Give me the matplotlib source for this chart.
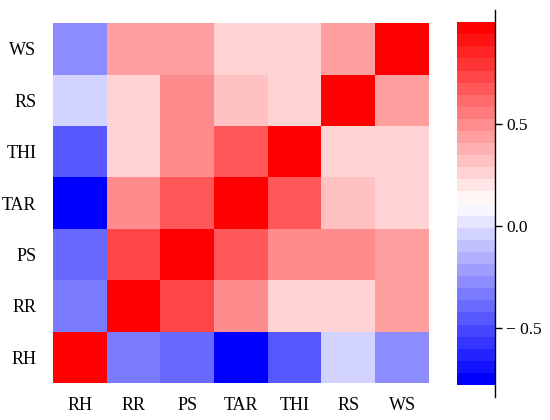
import numpy as np
import matplotlib
matplotlib.use("Agg")
import matplotlib.pyplot as plt
from matplotlib.colors import Normalize
from matplotlib.transforms import blended_transform_factory

plt.rcParams['font.family'] = ['Liberation Serif', 'DejaVu Serif']

# variables (bottom row first, same order on x)
labels = ['RH', 'RR', 'PS', 'TAR', 'THI', 'RS', 'WS']

# correlation rows, from RH (bottom) up to WS (top)
row_RH = [1.00, -0.33, -0.39, -0.75, -0.45, -0.04, -0.28]
row_RR = [-0.33, 1.00, 0.73, 0.50, 0.26, 0.26, 0.44]
row_PS = [-0.39, 0.73, 1.00, 0.67, 0.50, 0.50, 0.44]
row_TAR = [-0.75, 0.50, 0.67, 1.00, 0.67, 0.32, 0.26]
row_THI = [-0.45, 0.26, 0.50, 0.67, 1.00, 0.26, 0.26]
row_RS = [-0.04, 0.26, 0.50, 0.32, 0.26, 1.00, 0.44]
row_WS = [-0.28, 0.44, 0.44, 0.26, 0.26, 0.44, 1.00]

cbar_ticks = [-0.5, 0.0, 0.5]
cbar_ticklabels = ['\u2212 0.5', '0.0', '0.5']

corr = np.array([row_RH, row_RR, row_PS, row_TAR, row_THI, row_RS, row_WS])

vmin, vmax = -0.78, 1.0
cmap = plt.get_cmap('bwr', 30)
norm = Normalize(vmin=vmin, vmax=vmax)

fig = plt.figure(figsize=(5.5, 4.2), dpi=100)
ax = fig.add_axes([0.0964, 0.0881, 0.6836, 0.857])
im = ax.imshow(corr, cmap=cmap, norm=norm, origin='lower', aspect='auto',
               interpolation='nearest')

ax.set_xticks(range(len(labels)))
ax.set_xticklabels(labels, fontsize=13)
ax.set_yticks(range(len(labels)))
ax.set_yticklabels(labels, fontsize=13)
ax.tick_params(axis='both', length=0)
ax.tick_params(axis='x', pad=10)
ax.tick_params(axis='y', pad=12)
for s in ax.spines.values():
    s.set_visible(False)

# colorbar
cax = fig.add_axes([0.8309, 0.0833, 0.0691, 0.864])
cb = fig.colorbar(im, cax=cax)
cb.outline.set_visible(False)
cb.set_ticks(cbar_ticks)
cb.set_ticklabels(cbar_ticklabels)
cax.tick_params(axis='y', direction='out', length=5, width=1, labelsize=12.5, pad=3)

# axis line running past the bar ends
tr = blended_transform_factory(cax.transAxes, cax.transData)
cax.plot([1, 1], [-0.84, 1.06], transform=tr, color='black', lw=1, clip_on=False)

fig.savefig('out.png', dpi=100)
